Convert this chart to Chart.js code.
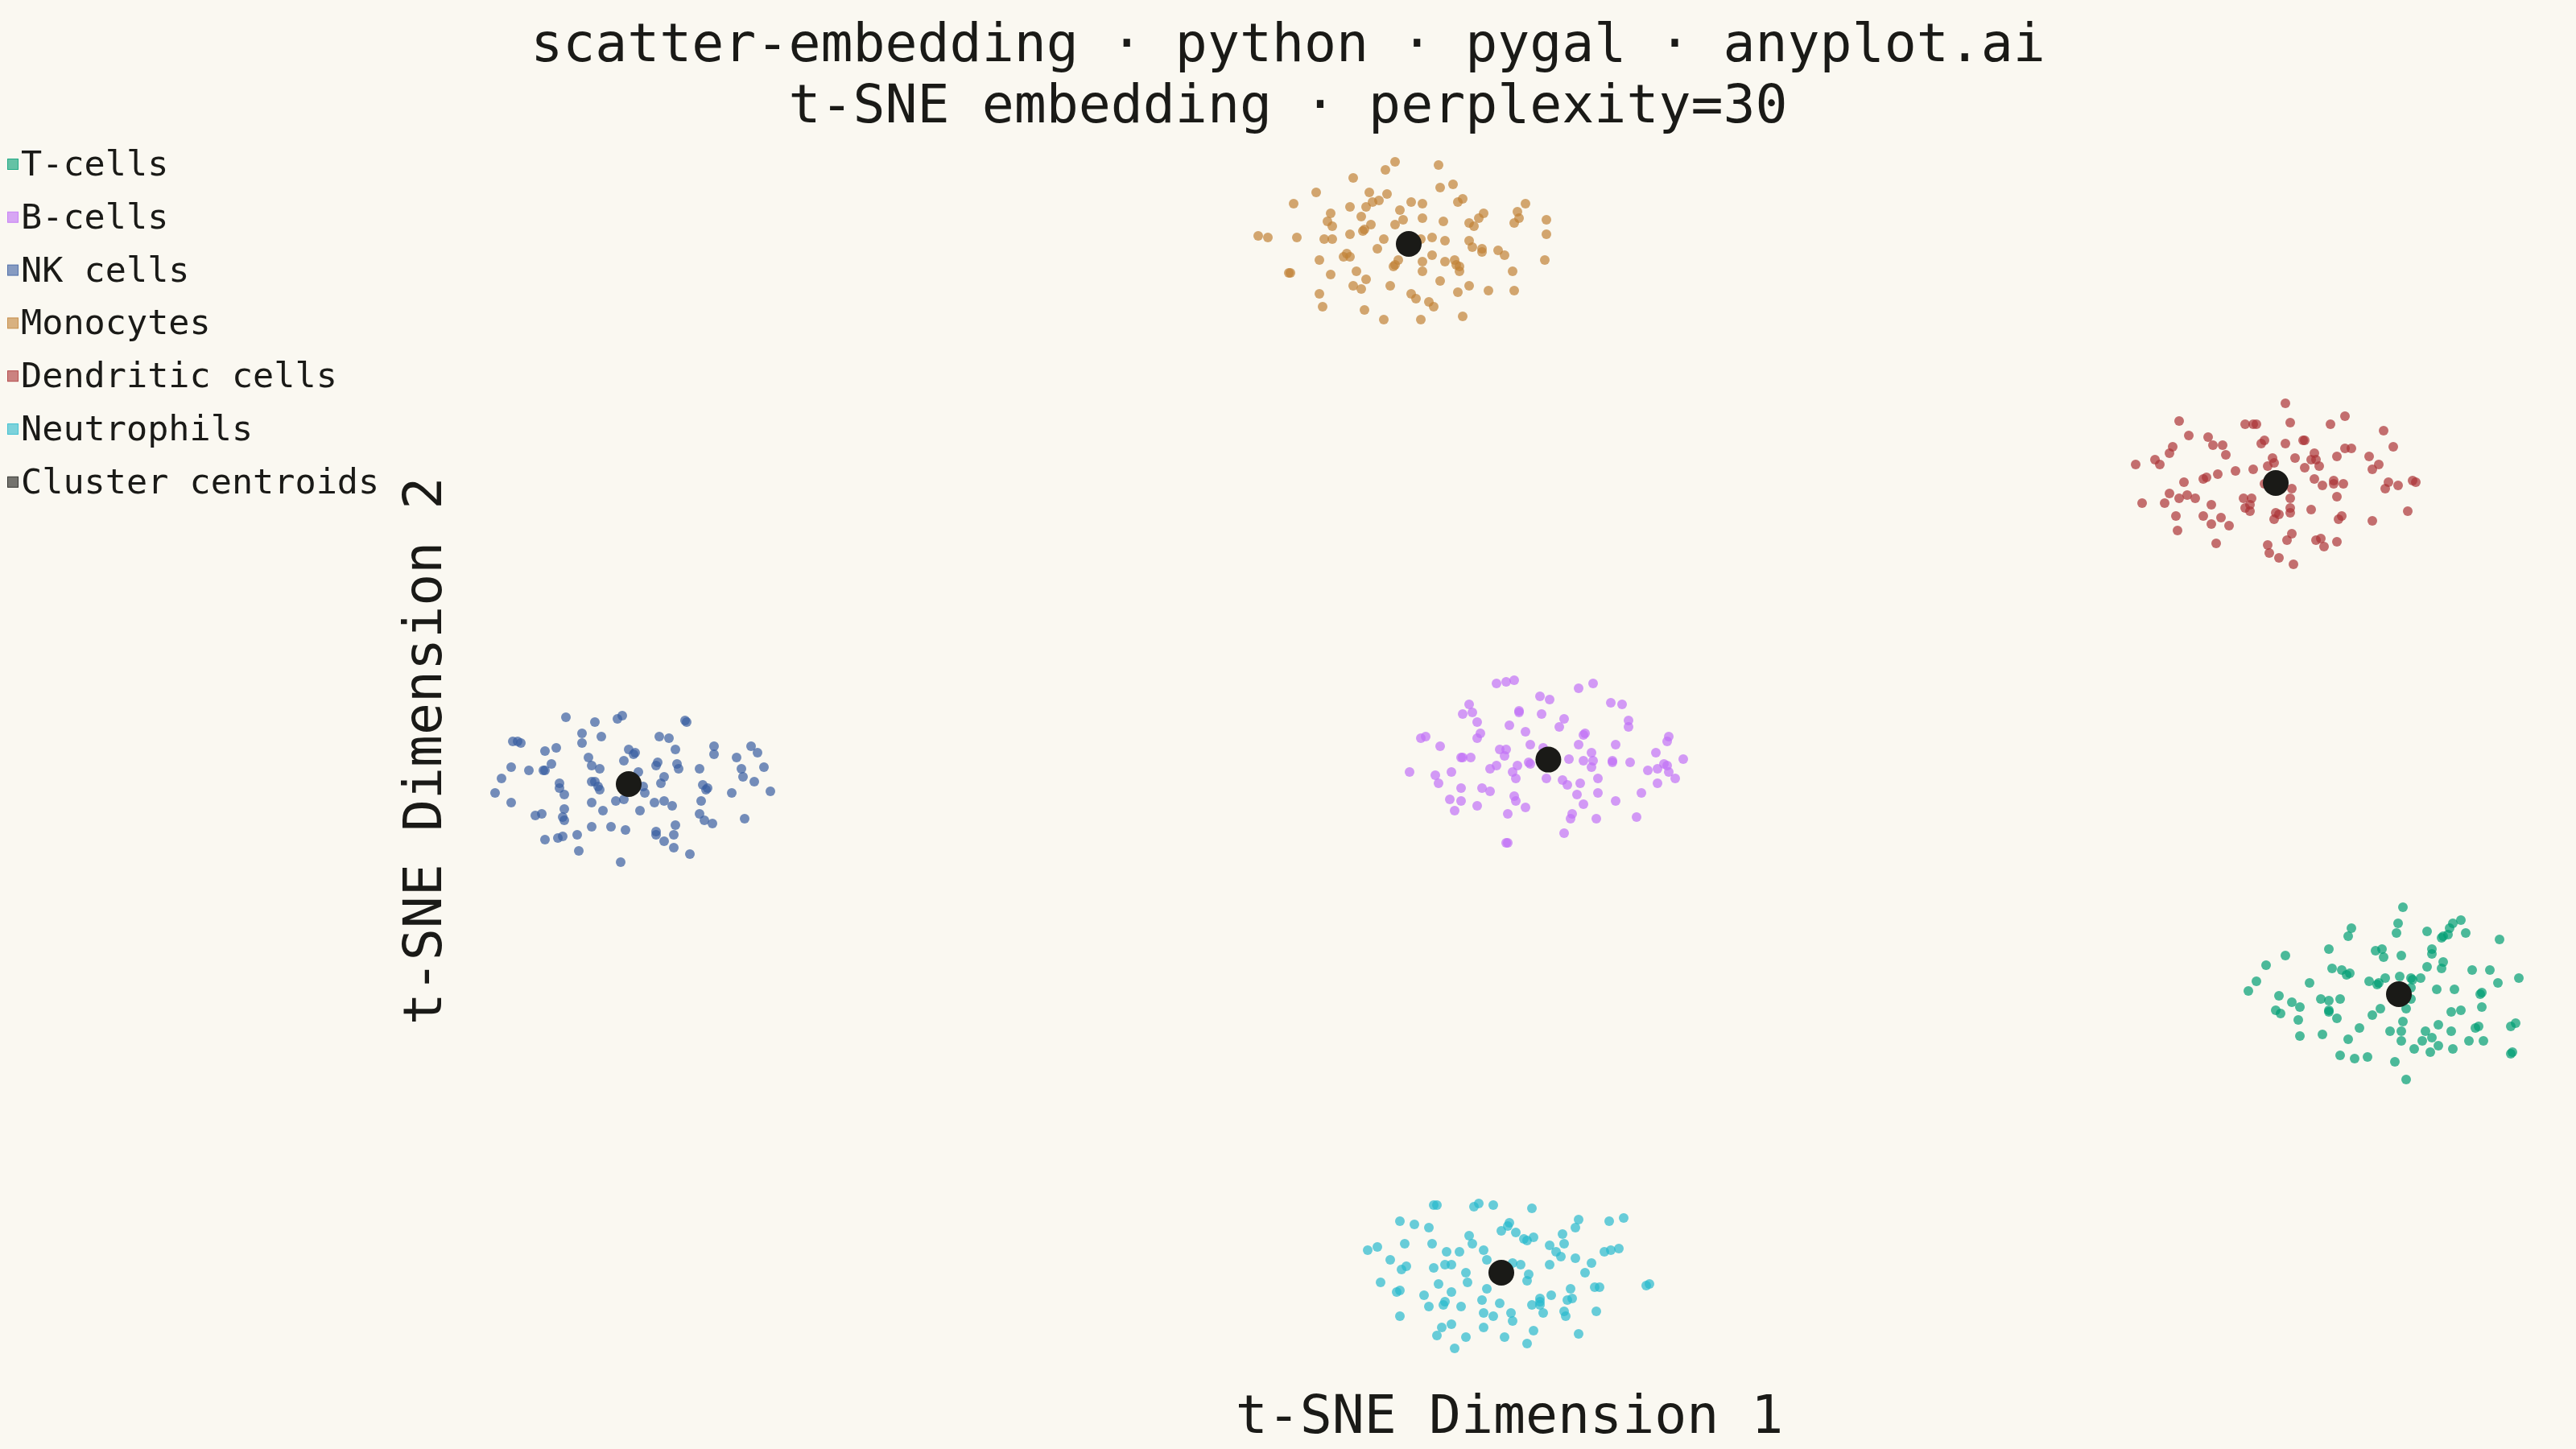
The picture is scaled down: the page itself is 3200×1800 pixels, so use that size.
<!DOCTYPE html>
<html>
<head>
<meta charset="utf-8">
<title>scatter-embedding</title>
<script src="https://cdn.jsdelivr.net/npm/chart.js@4.4.1/dist/chart.umd.min.js"></script>
<style>
  html, body { margin: 0; padding: 0; background: #FAF8F1; }
  canvas { display: block; }
</style>
</head>
<body>
<canvas id="chart" width="3200" height="1800"></canvas>
<script>
// cell types shown in the legend (same order as the point arrays below)
const categories = ["T-cells", "B-cells", "NK cells", "Monocytes", "Dendritic cells", "Neutrophils"];
const centroidLabel = "Cluster centroids";

// t-SNE coordinates [dim1, dim2]
const tCells = [[55.5,-9.6],[55.2,-10.6],[55.1,-11.2],[52.3,-10.9],[52.1,-11.4],[57.0,-11.1],[57.9,-11.5],[58.0,-11.4],[58.3,-11.3],[58.4,-10.9],[58.6,-10.6],[59.1,-10.4],[59.4,-11.2],[61.5,-11.6],[50.9,-12.2],[53.8,-12.3],[54.2,-12.2],[54.3,-12.7],[55.4,-12.6],[57.3,-12.2],[57.3,-12.5],[48.2,-12.6],[47.0,-13.2],[51.1,-13.4],[51.7,-13.5],[52.0,-13.8],[52.2,-13.7],[57.0,-13.3],[58.0,-13.0],[57.9,-13.4],[59.8,-13.5],[60.9,-13.5],[46.4,-14.2],[45.9,-14.8],[49.7,-14.3],[53.4,-14.2],[53.9,-14.4],[54.0,-14.3],[54.4,-14.0],[55.3,-13.9],[56.0,-14.0],[56.1,-14.1],[56.6,-14.0],[56.0,-14.6],[61.4,-14.3],[62.7,-14.0],[57.6,-14.7],[58.7,-14.7],[60.4,-14.9],[60.3,-15.0],[47.8,-15.1],[48.6,-15.5],[49.1,-15.8],[47.6,-16.0],[47.9,-16.2],[50.4,-15.3],[50.9,-15.4],[51.6,-15.3],[50.9,-16.0],[50.9,-16.1],[51.4,-16.5],[49.0,-16.6],[49.1,-17.6],[50.5,-17.5],[54.1,-15.9],[53.6,-16.3],[55.7,-15.9],[56.0,-15.3],[60.4,-15.8],[58.5,-16.1],[59.1,-16.0],[55.5,-16.7],[55.4,-17.3],[54.7,-17.3],[55.4,-17.9],[52.8,-17.1],[52.1,-17.8],[57.7,-16.9],[56.9,-17.3],[57.3,-17.7],[56.7,-17.9],[58.5,-17.3],[60.0,-17.1],[60.2,-17.0],[62.2,-17.0],[62.5,-16.8],[59.6,-17.9],[60.5,-17.9],[57.7,-18.2],[56.2,-18.4],[57.2,-18.6],[58.6,-18.4],[51.6,-18.8],[52.5,-19.0],[53.3,-18.9],[55.0,-19.2],[62.2,-18.7],[62.3,-18.6],[55.7,-20.3]];

const bCells = [[-0.8,4.3],[-0.2,4.4],[0.3,4.5],[4.3,4.0],[5.2,4.3],[1.9,3.5],[2.5,3.3],[-2.5,3.0],[-2.9,2.4],[-2.3,2.5],[0.6,2.6],[0.6,2.5],[2.0,2.4],[6.3,3.1],[7.0,3.0],[7.4,2.0],[7.4,1.6],[3.4,2.1],[3.1,1.6],[-2.0,1.9],[0.0,1.7],[1.0,1.3],[-1.8,1.2],[-2.0,0.9],[4.7,1.2],[4.6,1.1],[-5.5,0.9],[-5.2,1.0],[-4.3,0.4],[1.3,0.5],[2.1,0.3],[4.3,0.5],[6.6,0.5],[9.9,1.0],[9.8,0.7],[-0.6,0.2],[-0.2,0.2],[-0.3,-0.2],[-3.0,-0.3],[-2.9,-0.3],[-2.4,-0.3],[5.1,0.0],[3.7,-0.4],[4.6,-0.5],[5.2,-0.5],[5.1,-0.9],[9.1,0.0],[10.8,-0.4],[1.2,-0.6],[1.3,-0.7],[0.5,-0.8],[-0.8,-0.8],[-1.2,-1.0],[6.4,-0.5],[6.4,-0.6],[7.5,-0.6],[9.6,-0.7],[9.8,-0.8],[9.2,-1.0],[8.6,-1.1],[9.9,-1.2],[10.3,-1.6],[-6.2,-1.2],[-4.6,-1.4],[-3.6,-1.2],[-4.4,-1.9],[0.2,-1.2],[0.4,-1.6],[2.3,-1.6],[3.3,-1.7],[3.6,-2.0],[4.4,-1.9],[5.5,-1.6],[9.2,-1.9],[-3.0,-2.2],[-1.7,-2.2],[-1.2,-2.4],[-3.7,-2.9],[-3.0,-3.0],[-3.4,-3.6],[-2.0,-3.3],[0.3,-2.7],[0.4,-3.0],[1.0,-3.4],[-0.1,-3.8],[4.2,-2.6],[5.5,-2.5],[4.6,-3.2],[6.6,-3.0],[8.2,-2.5],[3.9,-3.8],[3.8,-4.1],[5.4,-4.1],[7.9,-4.0],[3.4,-5.0],[-0.2,-5.6],[-0.1,-5.6]];

const nkCells = [[-58.6,2.2],[-56.8,1.9],[-55.4,2.1],[-55.1,2.3],[-51.2,2.0],[-51.1,1.9],[-57.6,1.2],[-56.4,1.0],[-57.6,0.6],[-61.9,0.7],[-61.6,0.7],[-61.4,0.6],[-59.9,0.1],[-59.2,0.3],[-52.8,1.0],[-52.2,0.9],[-54.7,0.2],[-54.3,0.0],[-54.4,-0.1],[-51.8,0.2],[-49.4,0.4],[-49.4,-0.1],[-47.1,0.4],[-46.7,0.0],[-48.0,-0.3],[-57.2,-0.3],[-55.0,-0.5],[-52.9,-0.6],[-53.0,-0.8],[-51.7,-0.7],[-51.6,-1.0],[-62.0,-0.9],[-60.9,-1.1],[-60.0,-1.1],[-59.9,-1.1],[-59.5,-0.7],[-57.0,-0.8],[-56.5,-1.0],[-50.3,-1.0],[-47.7,-1.0],[-46.3,-0.9],[-62.6,-1.6],[-59.0,-1.9],[-59.0,-2.2],[-58.7,-2.6],[-57.0,-1.8],[-56.8,-1.8],[-56.6,-2.1],[-56.5,-2.3],[-54.1,-1.2],[-52.5,-1.5],[-52.7,-1.9],[-47.6,-1.5],[-46.9,-1.8],[-50.1,-2.0],[-49.9,-2.3],[-49.8,-2.2],[-53.8,-2.1],[-53.7,-2.5],[-48.3,-2.5],[-45.9,-2.4],[-63.0,-2.5],[-62.0,-3.1],[-57.0,-3.1],[-55.5,-3.0],[-55.0,-2.9],[-53.1,-3.1],[-52.5,-3.0],[-52.0,-3.3],[-50.2,-3.0],[-58.7,-3.5],[-56.3,-3.6],[-54.0,-3.6],[-60.5,-3.9],[-60.1,-3.8],[-58.8,-4.0],[-58.7,-4.2],[-50.3,-3.8],[-50.0,-4.2],[-49.5,-4.4],[-47.5,-4.1],[-57.0,-4.6],[-55.8,-4.6],[-54.9,-4.8],[-51.8,-4.5],[-53.0,-4.9],[-53.0,-5.1],[-51.9,-5.1],[-52.5,-5.5],[-59.9,-5.4],[-59.1,-5.3],[-58.8,-5.2],[-57.9,-5.1],[-57.8,-6.1],[-51.9,-5.9],[-50.9,-6.3],[-55.2,-6.8]];

const monocytes = [[-7.1,36.7],[-7.7,36.2],[-4.4,36.5],[-9.7,35.7],[-3.5,35.3],[-4.3,35.1],[-12.0,34.8],[-8.7,34.8],[-7.6,34.7],[-8.1,34.3],[-8.5,34.2],[-2.9,34.4],[-3.2,34.2],[1.0,34.1],[-13.4,34.1],[-6.1,34.2],[-5.4,34.1],[-9.9,33.9],[-8.9,33.9],[-11.1,33.5],[-6.8,33.7],[0.5,33.6],[-1.6,33.5],[-11.3,33.0],[-9.2,33.3],[-5.4,33.2],[-6.6,33.1],[-4.1,33.0],[0.6,33.2],[2.3,33.1],[-1.9,33.2],[0.3,32.9],[-2.5,32.9],[-2.2,32.7],[-11.0,32.7],[-8.6,32.8],[-9.0,32.5],[-9.1,32.4],[-7.1,32.8],[-15.6,32.1],[-15.0,32.0],[-13.2,32.0],[-11.5,31.9],[-11.0,31.9],[-9.9,32.2],[-7.8,31.9],[-5.5,31.9],[-4.8,32.0],[-4.0,31.8],[2.3,32.2],[-2.5,31.8],[-2.3,31.4],[-1.7,31.3],[-1.7,31.1],[-0.7,31.2],[-0.3,30.9],[-8.2,31.3],[-10.1,31.0],[-10.3,30.8],[-9.9,30.8],[-11.8,30.6],[-6.9,30.6],[-7.1,30.3],[-7.2,30.2],[-5.4,30.5],[-4.8,30.9],[-4.0,30.5],[-3.4,30.6],[-3.3,30.3],[-3.1,30.2],[-3.1,29.9],[2.2,30.6],[-13.7,29.8],[-13.6,29.8],[-9.5,29.9],[-5.4,29.9],[-11.1,29.7],[-8.9,29.4],[-4.3,29.3],[0.2,29.9],[-9.7,29.0],[-9.2,28.8],[-7.4,29.0],[-2.5,29.0],[-11.8,28.5],[-6.1,28.5],[-5.8,28.2],[-3.2,28.6],[-1.3,28.7],[0.3,28.7],[-11.6,27.7],[-9.0,27.5],[-5.0,28.0],[-4.7,27.7],[-2.9,27.1],[-7.8,26.9],[-5.5,26.9]];

const dendritic = [[48.2,21.7],[41.6,20.6],[45.7,20.4],[46.2,20.4],[46.4,20.4],[48.5,20.5],[51.0,20.4],[51.9,20.9],[54.3,20.0],[42.2,19.7],[43.4,19.6],[43.7,19.1],[44.3,19.1],[44.5,18.5],[41.2,19.0],[41.0,18.6],[46.9,19.4],[46.7,19.2],[48.2,19.2],[49.3,19.4],[49.4,19.4],[54.9,19.0],[51.9,18.9],[52.3,18.9],[50.0,18.6],[49.8,18.2],[50.1,18.2],[50.3,17.8],[49.4,17.7],[48.8,18.3],[47.4,18.3],[47.5,18.0],[47.1,17.8],[51.4,18.4],[53.4,18.4],[54.0,17.9],[53.6,17.6],[38.9,17.9],[40.1,18.2],[40.4,17.9],[46.2,17.6],[45.1,17.5],[44.0,17.3],[43.3,17.1],[43.1,17.0],[41.9,16.8],[50.0,17.0],[50.5,16.6],[51.2,16.9],[51.2,16.7],[51.8,16.7],[54.6,16.8],[55.2,16.6],[54.4,16.4],[56.1,16.9],[56.3,16.8],[41.0,16.1],[42.1,16.0],[41.6,15.8],[42.6,15.8],[39.3,15.5],[40.7,15.5],[48.6,16.4],[48.5,15.8],[51.4,15.9],[45.6,15.8],[46.1,15.8],[45.7,15.2],[46.0,15.4],[46.0,15.0],[43.6,15.4],[48.5,15.2],[48.5,14.9],[49.8,15.1],[47.6,14.9],[47.8,14.8],[47.5,14.5],[41.4,14.7],[43.1,14.7],[44.2,14.6],[43.6,14.2],[44.7,14.1],[41.5,13.8],[51.7,14.7],[51.5,14.5],[55.8,15.0],[53.6,14.4],[48.6,13.6],[48.3,13.2],[50.1,13.2],[50.4,13.3],[50.6,12.8],[51.4,13.1],[43.9,13.0],[47.1,12.9],[47.2,12.4],[47.8,12.1],[48.7,11.7],[46.9,16.7]];

const neutrophils = [[-4.7,-28.1],[-4.5,-28.1],[-2.2,-28.2],[-1.9,-28.0],[-1.0,-28.1],[1.4,-28.3],[-6.8,-29.1],[-5.9,-29.3],[-5.0,-29.5],[0.0,-29.2],[-0.1,-29.4],[-0.5,-29.7],[0.4,-29.8],[0.9,-30.2],[1.1,-30.3],[1.5,-30.1],[4.3,-29.0],[4.1,-29.5],[6.2,-29.1],[7.1,-28.9],[-2.5,-30.0],[-2.3,-30.5],[3.3,-29.9],[3.4,-30.5],[2.5,-30.6],[-8.8,-30.9],[-8.2,-30.7],[-6.5,-30.5],[-4.8,-30.5],[-3.9,-31.0],[-3.1,-31.0],[-1.6,-30.9],[-1.4,-31.5],[2.9,-31.0],[3.2,-31.3],[4.1,-31.4],[5.9,-31.0],[6.3,-30.9],[6.8,-30.8],[-7.4,-31.5],[-6.7,-32.1],[-6.4,-31.9],[-4.7,-32.0],[-4.0,-31.8],[-3.6,-31.8],[0.2,-31.7],[0.7,-31.8],[2.5,-31.8],[5.1,-31.7],[4.7,-32.3],[-2.7,-32.3],[-2.6,-32.9],[1.2,-32.4],[1.1,-32.8],[-8.0,-32.9],[-4.4,-33.0],[-1.4,-33.3],[-7.0,-33.5],[-6.8,-33.4],[-5.3,-33.7],[-3.6,-33.5],[3.8,-33.3],[5.3,-33.2],[5.6,-33.2],[8.5,-33.1],[8.7,-33.0],[-1.7,-34.0],[-0.6,-34.2],[2.6,-33.7],[1.9,-33.9],[1.9,-34.1],[1.4,-34.3],[1.9,-34.3],[3.6,-34.0],[3.9,-33.9],[-5.0,-34.4],[-4.1,-34.3],[-4.0,-34.1],[-3.0,-34.4],[2.1,-34.8],[3.4,-34.7],[3.5,-35.0],[5.4,-34.7],[-6.8,-35.0],[-1.6,-34.8],[-1.0,-35.0],[0.1,-34.8],[0.2,-35.3],[-4.2,-35.7],[-3.6,-35.5],[-4.5,-36.2],[-1.6,-35.7],[1.5,-35.9],[-2.7,-36.3],[-0.3,-36.3],[4.3,-36.1],[1.1,-36.7],[-3.4,-37.0]];

// one centroid per cell type, same order as categories
const centroids = [[55.25,-15.0],[2.42,-0.43],[-54.7,-1.95],[-6.25,31.6],[47.6,16.75],[-0.5,-32.3]];

const seriesPoints = [tCells, bCells, nkCells, monocytes, dendritic, neutrophils];
const seriesColors = ["0,158,115", "192,112,246", "57,94,161", "193,130,54", "171,51,54", "40,185,205"];
const centroidColor = "26,26,23";

const BG = "#FAF8F1";
const INK = "#1A1A17";
const MONO = '"DejaVu Sans Mono", monospace';

const toXY = (pts) => pts.map(p => ({ x: p[0], y: p[1] }));

const datasets = categories.map((name, i) => ({
  label: name,
  data: toXY(seriesPoints[i]),
  backgroundColor: "rgba(" + seriesColors[i] + ",0.7)",
  borderWidth: 0,
  pointRadius: 6,
  order: 1,
}));
datasets.push({
  label: centroidLabel,
  data: toXY(centroids),
  backgroundColor: "rgb(" + centroidColor + ")",
  borderWidth: 0,
  pointRadius: 16,
  order: 0,
});

// background, titles, axis names and legend (pygal style)
const decor = {
  id: "decor",
  beforeDraw(chart) {
    const ctx = chart.ctx;
    ctx.save();
    ctx.fillStyle = BG;
    ctx.fillRect(0, 0, chart.width, chart.height);
    ctx.restore();
  },
  afterDraw(chart) {
    const ctx = chart.ctx;
    const area = chart.chartArea;
    ctx.save();
    ctx.fillStyle = INK;
    ctx.textBaseline = "alphabetic";

    // title
    ctx.font = "66.5px " + MONO;
    ctx.textAlign = "center";
    ctx.fillText("scatter-embedding · python · pygal · anyplot.ai", chart.width / 2, 76);
    ctx.fillText("t-SNE embedding · perplexity=30", chart.width / 2, 152);

    // axis names
    ctx.fillText("t-SNE Dimension 1", (area.left + area.right) / 2, 1780);
    ctx.save();
    ctx.translate(548, 933);
    ctx.rotate(-Math.PI / 2);
    ctx.fillText("t-SNE Dimension 2", 0, 0);
    ctx.restore();

    // legend
    ctx.font = "43.5px " + MONO;
    ctx.textAlign = "left";
    const labels = categories.concat([centroidLabel]);
    const colors = seriesColors.concat([centroidColor]);
    labels.forEach((lab, i) => {
      const base = 218 + i * 65.8;
      ctx.fillStyle = "rgba(" + colors[i] + ",0.6)";
      ctx.fillRect(9.5, base - 20.5, 13, 13);
      ctx.strokeStyle = "rgba(" + colors[i] + ",0.8)";
      ctx.lineWidth = 1;
      ctx.strokeRect(9.5, base - 20.5, 13, 13);
      ctx.fillStyle = INK;
      ctx.fillText(lab, 26, base);
    });
    ctx.restore();
  }
};

new Chart(document.getElementById("chart"), {
  type: "scatter",
  data: { datasets: datasets },
  options: {
    responsive: false,
    devicePixelRatio: 1,
    animation: false,
    events: [],
    layout: { padding: { left: 570, right: 20, top: 180, bottom: 110 } },
    scales: {
      x: { type: "linear", min: -65.25, max: 65.25, display: false },
      y: { type: "linear", min: -37.75, max: 37.75, display: false }
    },
    plugins: {
      legend: { display: false },
      title: { display: false },
      tooltip: { enabled: false }
    }
  },
  plugins: [decor]
});
</script>
</body>
</html>
